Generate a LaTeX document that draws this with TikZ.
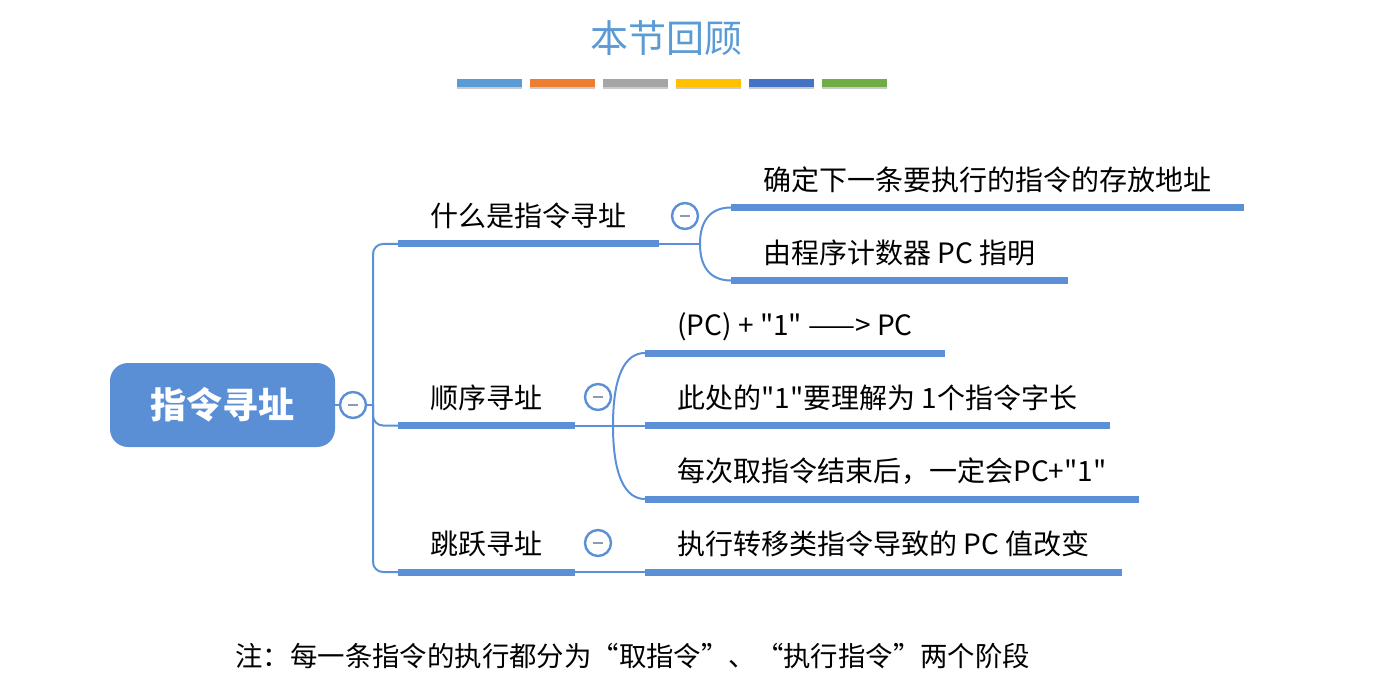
\documentclass[tikz,border=0pt]{standalone}
\usepackage{fontspec}
\setmainfont{Noto Sans CJK SC}[Ligatures=TeXOff]
\usepackage{xcolor}
\usepackage{tikz}
\usetikzlibrary{positioning,calc,shadows}

\definecolor{mapblue}{HTML}{5B8FD6}
\definecolor{rootblue}{HTML}{5A8ED5}
\definecolor{titleblue}{HTML}{5B9BD5}
\definecolor{foldgray}{HTML}{8C9AB3}
\definecolor{barorange}{HTML}{ED7D31}
\definecolor{bargray}{HTML}{A5A5A5}
\definecolor{bargold}{HTML}{FFC000}
\definecolor{bardark}{HTML}{4472C4}
\definecolor{bargreen}{HTML}{70AD47}

\tikzset{
  topic/.style={anchor=south west, inner xsep=16pt, inner ysep=6.5pt, text height=12pt, text depth=2pt, font=\fontsize{14pt}{16pt}\selectfont},
  ubar/.style={draw=mapblue, line width=3.5pt},
  link/.style={draw=mapblue, line width=1pt},
  fold/.style={circle, draw=mapblue, line width=1.2pt, fill=white, minimum size=13pt, inner sep=0pt,
    path picture={\draw[foldgray, line width=1.3pt] ([xshift=-2.6pt]path picture bounding box.center) -- ([xshift=2.6pt]path picture bounding box.center);}},
  rootbox/.style={rectangle, rounded corners=9pt, fill=rootblue, text=white, minimum width=112.5pt, minimum height=42pt, font=\fontsize{18pt}{20pt}\selectfont\bfseries},
}

\begin{document}
\begin{tikzpicture}[x=0.5pt,y=-0.5pt]
\useasboundingbox (0,0) rectangle (1386,695);

% title and colour strip
\node[font=\fontsize{19pt}{21pt}\selectfont, text=titleblue] (title) at (666,38.5) {本节回顾};
\foreach \c [count=\i from 0] in {titleblue,barorange,bargray,bargold,bardark,bargreen}
  \path[fill=\c, drop shadow={shadow xshift=0pt, shadow yshift=-1.2pt, opacity=.35, fill=black!60}] ({457+73*\i},79) rectangle ++(65,8);

% root
\node[rootbox] (root) at (222.5,405) {指令寻址};
\node[fold] (c0) at (353,405) {};

% branches
\node[topic] (b1) at (398,244) {什么是指令寻址};
\node[topic] (b2) at (398,425.5) {顺序寻址};
\node[topic] (b3) at (398,572) {跳跃寻址};
\node[fold] (c1) at (685,216) {};
\node[fold] (c2) at (598,397) {};
\node[fold] (c3) at (598,543) {};

% leaves
\node[topic] (k1) at (731,207.5) {确定下一条要执行的指令的存放地址};
\node[topic] (k2) at (731,280.5) {由程序计数器 PC 指明};
\node[topic] (s1) at (645,353) {(PC) + "1" ——> PC};
\node[topic] (s2) at (645,425.5) {此处的"1"要理解为 1个指令字长};
\node[topic] (s3) at (645,499) {每次取指令结束后，一定会PC+"1"};
\node[topic] (t1) at (645,572) {执行转移类指令导致的 PC 值改变};

\foreach \n in {b1,b2,b3,k1,k2,s1,s2,s3,t1}
  \draw[ubar] (\n.south west) -- (\n.south east);

% connectors
\coordinate (hub) at (373,405);
\draw[link] (root.east) -- (c0.west);
\draw[link] (c0.east) -- (hub);
\draw[link, rounded corners=5pt] (hub) |- (b1.south west);
\draw[link, rounded corners=5pt] (hub) |- (b2.south west);
\draw[link, rounded corners=5pt] (hub) |- (b3.south west);

\coordinate (jk) at (700,244);
\draw[link] (b1.south east) -- (jk);
\draw[link] (jk) .. controls +(0,-24) and +(-20,0) .. (k1.south west);
\draw[link] (jk) .. controls +(0,24) and +(-20,0) .. (k2.south west);

\coordinate (js) at (613,425.5);
\draw[link] (b2.south east) -- (s2.south west);
\draw[link] (js) .. controls +(0,-50) and +(-20,0) .. (s1.south west);
\draw[link] (js) .. controls +(0,50) and +(-20,0) .. (s3.south west);

\draw[link] (b3.south east) -- (t1.south west);

% note
\node[anchor=west, inner xsep=0pt, font=\fontsize{13.7pt}{15pt}\selectfont] (note) at (235,656) {\addfontfeature{RawFeature=+fwid}注：每一条指令的执行都分为“取指令”、“执行指令”两个阶段};
\end{tikzpicture}
\end{document}
